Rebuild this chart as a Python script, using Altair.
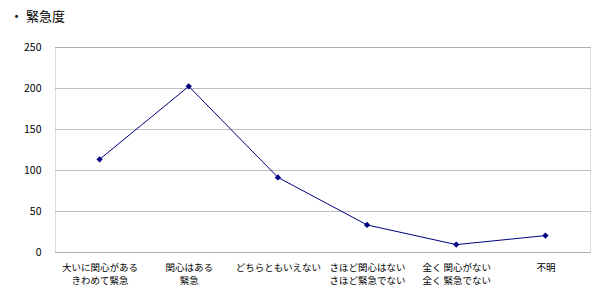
import altair as alt
import pandas as pd

categories = [
    "大いに関心がある\nきわめて緊急",
    "関心はある\n緊急",
    "どちらともいえない",
    "さほど関心はない\nさほど緊急でない",
    "全く 関心がない\n全く 緊急でない",
    "不明",
]
values = [113, 202, 91, 33, 9, 20]
title_text = "・ 緊急度"
y_ticks = [0, 50, 100, 150, 200, 250]

df = pd.DataFrame({"cat": categories, "val": values, "order": list(range(len(categories)))})

font = "Noto Sans CJK JP"

base = alt.Chart(df).encode(
    x=alt.X(
        "cat:N",
        sort=categories,
        scale=alt.Scale(type="point", padding=0.5),
        axis=alt.Axis(
            title=None,
            labelAngle=0,
            ticks=False,
            domain=False,
            grid=False,
            labelExpr="split(datum.label, '\\n')",
            labelFont=font,
            labelFontSize=9.5,
            labelColor="black",
            labelPadding=10,
            labelLineHeight=13.5,
        ),
    ),
    y=alt.Y(
        "val:Q",
        scale=alt.Scale(domain=[0, 250], nice=False),
        axis=alt.Axis(
            title=None,
            values=y_ticks,
            ticks=False,
            domain=False,
            grid=True,
            gridColor="#808080",
            gridWidth=1,
            gridDash=[1, 1],
            labelFont=font,
            labelFontSize=10.5,
            labelColor="black",
            labelPadding=14,
        ),
    ),
    order="order:Q",
)

line = base.mark_line(color="#000080", strokeWidth=1)
pts = base.mark_point(shape="diamond", filled=True, color="#000080", size=40, opacity=1)

chart = (
    alt.layer(line, pts)
    .properties(
        width=535,
        height=205,
        autosize=alt.AutoSizeParams(type="none"),
        padding={"left": 55, "top": 47, "right": 22, "bottom": 43},
        title=alt.TitleParams(
            title_text,
            anchor="start",
            frame="group",
            dx=-45,
            offset=18,
            font=font,
            fontSize=13,
            fontWeight="normal",
            color="black",
        ),
    )
    .configure_view(stroke="black", strokeWidth=1)
    .configure(background="white")
)

chart.save("out.html", embed_options={"renderer": "svg", "actions": False})
